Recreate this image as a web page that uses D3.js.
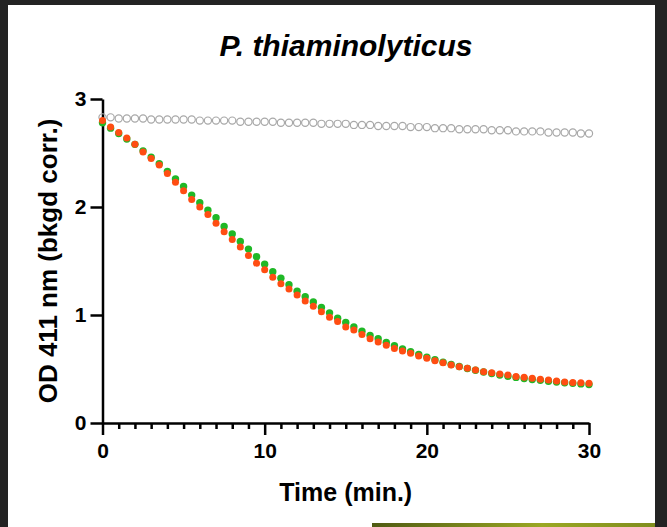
<!DOCTYPE html>
<html>
<head>
<meta charset="utf-8">
<script src="https://cdn.jsdelivr.net/npm/d3@7"></script>
<style>
  html, body { margin: 0; padding: 0; background: #232323; }
  svg { display: block; }
</style>
</head>
<body>
<svg id="chartSVG" width="667" height="527"></svg>
<script>
// time points (min.)
var times = [0, 0.5, 1, 1.5, 2, 2.5, 3, 3.5, 4, 4.5, 5, 5.5, 6, 6.5, 7, 7.5, 8, 8.5, 9, 9.5,
    10, 10.5, 11, 11.5, 12, 12.5, 13, 13.5, 14, 14.5, 15, 15.5, 16, 16.5, 17, 17.5, 18, 18.5, 19, 19.5,
    20, 20.5, 21, 21.5, 22, 22.5, 23, 23.5, 24, 24.5, 25, 25.5, 26, 26.5, 27, 27.5, 28, 28.5, 29, 29.5, 30];

// OD 411 values
var redValues = [2.80, 2.74, 2.69, 2.64, 2.58, 2.51, 2.45, 2.39, 2.31, 2.23, 2.15, 2.07, 2.00, 1.93, 1.85, 1.77, 1.70, 1.63, 1.55, 1.48, 1.42,
    1.35, 1.29, 1.24, 1.185, 1.13, 1.08, 1.03, 0.98, 0.94, 0.89, 0.86, 0.82, 0.78, 0.75, 0.72, 0.69, 0.667, 0.645, 0.62, 0.60,
    0.576, 0.558, 0.537, 0.52, 0.506, 0.49, 0.475, 0.466, 0.454, 0.444, 0.43, 0.423, 0.414, 0.405, 0.398, 0.39, 0.38, 0.376, 0.373, 0.367];
var greenValues = [2.78, 2.73, 2.68, 2.63, 2.58, 2.52, 2.46, 2.40, 2.33, 2.26, 2.19, 2.11, 2.04, 1.97, 1.90, 1.82, 1.75, 1.68, 1.61, 1.54, 1.47,
    1.40, 1.34, 1.28, 1.22, 1.17, 1.12, 1.07, 1.02, 0.97, 0.93, 0.89, 0.85, 0.81, 0.78, 0.745, 0.715, 0.685, 0.66, 0.635, 0.61,
    0.585, 0.563, 0.542, 0.523, 0.505, 0.488, 0.472, 0.458, 0.445, 0.433, 0.422, 0.412, 0.403, 0.395, 0.387, 0.38, 0.373, 0.367, 0.362, 0.357];
var greyValues = [2.83, 2.83, 2.82, 2.82, 2.82, 2.82, 2.81, 2.81, 2.81, 2.81, 2.81,
    2.81, 2.80, 2.80, 2.80, 2.80, 2.80, 2.79, 2.79, 2.79, 2.79,
    2.79, 2.78, 2.78, 2.78, 2.78, 2.78, 2.77, 2.77, 2.77, 2.77,
    2.76, 2.76, 2.76, 2.75, 2.75, 2.75, 2.75, 2.74, 2.74, 2.74,
    2.73, 2.73, 2.73, 2.72, 2.72, 2.72, 2.72, 2.71, 2.71, 2.71,
    2.70, 2.70, 2.70, 2.70, 2.69, 2.69, 2.69, 2.69, 2.68, 2.68];

var xTicks = [0, 10, 20, 30];
var xMinorTicks = [1, 2, 3, 4, 5, 6, 7, 8, 9, 11, 12, 13, 14, 15, 16, 17, 18, 19, 21, 22, 23, 24, 25, 26, 27, 28, 29];
var yTicks = [0, 1, 2, 3];

var titleText = 'P. thiaminolyticus';
var xLabel = 'Time (min.)';
var yLabel = 'OD 411 nm (bkgd corr.)';

var svg = d3.select('#chartSVG');
var width = 667, height = 527;
var margin = { left: 102.5, right: 78, top: 99, bottom: 104 };
var innerWidth = width - margin.left - margin.right;
var innerHeight = height - margin.top - margin.bottom;
var font = "'Liberation Sans', Arial, sans-serif";

// page / frame
svg.append('rect')
    .attr('x', 8).attr('y', 5)
    .attr('width', 647).attr('height', 522)
    .style('fill', 'white');

var grad = svg.append('defs').append('linearGradient')
    .attr('id', 'olive')
    .attr('x1', '0%').attr('x2', '100%');
grad.append('stop').attr('offset', '0%').attr('stop-color', '#4f5a12');
grad.append('stop').attr('offset', '60%').attr('stop-color', '#9aa824');
grad.append('stop').attr('offset', '100%').attr('stop-color', '#7f8d1e');
svg.append('rect')
    .attr('x', 372).attr('y', 523)
    .attr('width', 283).attr('height', 4)
    .style('fill', 'url(#olive)');

// title
svg.append('text')
    .attr('x', 346)
    .attr('y', 56)
    .attr('text-anchor', 'middle')
    .style('font-family', font)
    .style('font-size', '30px')
    .style('font-weight', 'bold')
    .style('font-style', 'italic')
    .style('fill', 'black')
    .text(titleText);

var g = svg.append('g')
    .attr('transform', `translate(${margin.left}, ${margin.top})`);

var xScale = d3.scaleLinear()
    .domain([0, 30])
    .range([0, innerWidth]);
var yScale = d3.scaleLinear()
    .domain([0, 3])
    .range([innerHeight, 0]);

// x axis, minor ticks first
var xMinor = g.append('g')
    .attr('transform', `translate(0,${innerHeight})`)
    .call(d3.axisBottom(xScale).tickValues(xMinorTicks).tickSize(6).tickFormat(''));
xMinor.select('.domain').remove();
xMinor.selectAll('.tick line').style('stroke', 'black').style('stroke-width', 2.5);

var xAxis = g.append('g')
    .attr('transform', `translate(0,${innerHeight})`)
    .call(d3.axisBottom(xScale).tickValues(xTicks).tickFormat(d3.format('d'))
        .tickSize(12).tickSizeOuter(0).tickPadding(8));
xAxis.select('.domain').style('stroke', 'black').style('stroke-width', 2.5);
xAxis.selectAll('.tick line').style('stroke', 'black').style('stroke-width', 2.5);
xAxis.selectAll('.tick text')
    .style('font-family', font)
    .style('font-size', '21px')
    .style('font-weight', 'bold')
    .style('fill', 'black');

var yAxis = g.append('g')
    .call(d3.axisLeft(yScale).tickValues(yTicks).tickFormat(d3.format('d'))
        .tickSize(12).tickSizeOuter(0).tickPadding(4));
yAxis.select('.domain').style('stroke', 'black').style('stroke-width', 2.5);
yAxis.selectAll('.tick line').style('stroke', 'black').style('stroke-width', 2.5);
yAxis.selectAll('.tick text')
    .style('font-family', font)
    .style('font-size', '21px')
    .style('font-weight', 'bold')
    .style('fill', 'black');

// axis titles
svg.append('text')
    .attr('x', margin.left + innerWidth / 2)
    .attr('y', 501)
    .attr('text-anchor', 'middle')
    .style('font-family', font)
    .style('font-size', '25px')
    .style('font-weight', 'bold')
    .style('fill', 'black')
    .text(xLabel);
svg.append('text')
    .attr('transform', 'translate(57, 261) rotate(-90)')
    .attr('text-anchor', 'middle')
    .style('font-family', font)
    .style('font-size', '26px')
    .style('font-weight', 'bold')
    .style('fill', 'black')
    .text(yLabel);

// series
var greyData = times.map((t, i) => ({ t: t, v: greyValues[i] }));
var greenData = times.map((t, i) => ({ t: t, v: greenValues[i] }));
var redData = times.map((t, i) => ({ t: t, v: redValues[i] }));

g.selectAll('.grey')
    .data(greyData)
    .enter().append('circle')
    .attr('class', 'grey')
    .attr('cx', d => xScale(d.t))
    .attr('cy', d => yScale(d.v))
    .attr('r', 3.6)
    .style('fill', 'none')
    .style('stroke', '#a8a8a8')
    .style('stroke-width', 1.2);

g.selectAll('.green')
    .data(greenData)
    .enter().append('circle')
    .attr('class', 'green')
    .attr('cx', d => xScale(d.t))
    .attr('cy', d => yScale(d.v))
    .attr('r', 3.7)
    .style('fill', '#1fb826');

g.selectAll('.red')
    .data(redData)
    .enter().append('circle')
    .attr('class', 'red')
    .attr('cx', d => xScale(d.t))
    .attr('cy', d => yScale(d.v))
    .attr('r', 3.5)
    .style('fill', '#ff4d12');
</script>
</body>
</html>
